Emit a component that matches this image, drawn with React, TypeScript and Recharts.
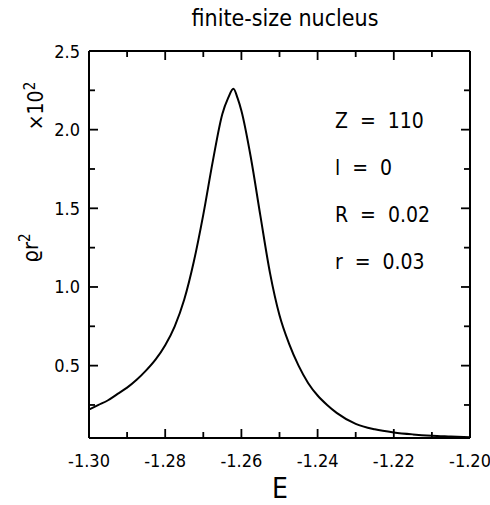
import { LineChart, Line, XAxis, YAxis } from "recharts";

const FONT = '"DejaVu Sans Condensed", "Liberation Sans Narrow", "Liberation Sans", sans-serif';

// E values and rho*r^2 (x10^-2)
const energy = [
  -1.3, -1.2975, -1.295, -1.2925, -1.29, -1.2875, -1.285, -1.2825, -1.28, -1.2775, -1.275, -1.2725,
  -1.27, -1.2675, -1.265, -1.2635, -1.2621, -1.261, -1.26, -1.2575, -1.255, -1.2525, -1.25,
  -1.2475, -1.245, -1.2425, -1.24, -1.2375, -1.235, -1.23, -1.225, -1.22, -1.215, -1.21, -1.205, -1.2,
];
const density = [
  0.22, 0.25, 0.28, 0.32, 0.36, 0.41, 0.47, 0.54, 0.63, 0.75, 0.92, 1.16,
  1.46, 1.8, 2.1, 2.2, 2.26, 2.2, 2.12, 1.82, 1.45, 1.09, 0.82,
  0.64, 0.5, 0.39, 0.31, 0.25, 0.2, 0.13, 0.095, 0.075, 0.063, 0.055, 0.05, 0.045,
];

const xTicks = [-1.3, -1.29, -1.28, -1.27, -1.26, -1.25, -1.24, -1.23, -1.22, -1.21, -1.2];
const yTicks = [0.25, 0.5, 0.75, 1.0, 1.25, 1.5, 1.75, 2.0, 2.25, 2.5];

const params = ["Z  =  110", "l  =  0", "R  =  0.02", "r  =  0.03"];

const data = energy.map((e, i) => ({ E: e, rho: density[i] }));

const isMajorX = (v: number) => Math.round(Math.abs(v) * 100) % 2 === 0;
const isMajorY = (v: number) => Math.round(v * 4) % 2 === 0;
const fmtX = (v: number) => "-" + Math.abs(v).toFixed(2);

function BottomTick({ x, y, payload }: any) {
  const major = isMajorX(payload.value);
  return (
    <g>
      <line x1={x} x2={x} y1={y} y2={y - (major ? 9 : 6)} stroke="#000" strokeWidth={1.8} />
      {major && (
        <text x={x} y={y + 29} textAnchor="middle" fontSize={18} fontFamily={FONT} fill="#000">
          {fmtX(payload.value)}
        </text>
      )}
    </g>
  );
}

function TopTick({ x, y, payload }: any) {
  const major = isMajorX(payload.value);
  return <line x1={x} x2={x} y1={y} y2={y + (major ? 9 : 6)} stroke="#000" strokeWidth={1.8} />;
}

function LeftTick({ x, y, payload }: any) {
  const major = isMajorY(payload.value);
  return (
    <g>
      <line x1={x} x2={x + (major ? 9 : 6)} y1={y} y2={y} stroke="#000" strokeWidth={1.8} />
      {major && (
        <text x={x - 9} y={y + 6.5} textAnchor="end" fontSize={18} fontFamily={FONT} fill="#000">
          {payload.value.toFixed(1)}
        </text>
      )}
    </g>
  );
}

function RightTick({ x, y, payload }: any) {
  const major = isMajorY(payload.value);
  return <line x1={x} x2={x - (major ? 9 : 6)} y1={y} y2={y} stroke="#000" strokeWidth={1.8} />;
}

const axisLine = { stroke: "#000", strokeWidth: 2 };

export default function App() {
  return (
    <div style={{ position: "absolute", left: 0, top: 0, width: 490, height: 505, background: "#fff" }}>
      <LineChart width={490} height={505} data={data} margin={{ top: 50, right: 19, bottom: 0, left: 0 }}>
        <XAxis
          xAxisId="b"
          dataKey="E"
          type="number"
          domain={[-1.3, -1.2]}
          ticks={xTicks}
          interval={0}
          height={67}
          tickSize={0}
          tickMargin={0}
          tickLine={false}
          axisLine={axisLine}
          tick={<BottomTick />}
        />
        <XAxis
          xAxisId="t"
          orientation="top"
          dataKey="E"
          type="number"
          domain={[-1.3, -1.2]}
          ticks={xTicks}
          interval={0}
          height={1}
          tickSize={0}
          tickMargin={0}
          tickLine={false}
          axisLine={axisLine}
          tick={<TopTick />}
        />
        <YAxis
          yAxisId="l"
          type="number"
          domain={[0.04, 2.5]}
          allowDataOverflow
          ticks={yTicks}
          interval={0}
          width={89}
          tickSize={0}
          tickMargin={0}
          tickLine={false}
          axisLine={axisLine}
          tick={<LeftTick />}
        />
        <YAxis
          yAxisId="r"
          orientation="right"
          type="number"
          domain={[0.04, 2.5]}
          allowDataOverflow
          ticks={yTicks}
          interval={0}
          width={1}
          tickSize={0}
          tickMargin={0}
          tickLine={false}
          axisLine={axisLine}
          tick={<RightTick />}
        />
        <Line
          xAxisId="b"
          yAxisId="l"
          dataKey="rho"
          type="monotone"
          stroke="#000"
          strokeWidth={2}
          dot={false}
          isAnimationActive={false}
        />
      </LineChart>
      <svg
        width={490}
        height={505}
        style={{ position: "absolute", left: 0, top: 0, pointerEvents: "none" }}
        fontFamily={FONT}
      >
        <text x={285} y={26} textAnchor="middle" fontSize={23}>
          finite-size nucleus
        </text>
        <text x={280} y={498} textAnchor="middle" fontSize={28}>
          E
        </text>
        <text transform="translate(38,248) rotate(-90)" textAnchor="middle" fontSize={22}>
          ϱr<tspan dy={-8} fontSize={15}>2</tspan>
        </text>
        <text transform="translate(43,106) rotate(-90)" textAnchor="middle" fontSize={21}>
          ×10<tspan dy={-8} fontSize={15}>2</tspan>
        </text>
        {params.map((p, i) => (
          <text key={p} x={335} y={128 + i * 47} fontSize={21} style={{ whiteSpace: "pre" }}>
            {p}
          </text>
        ))}
      </svg>
    </div>
  );
}
